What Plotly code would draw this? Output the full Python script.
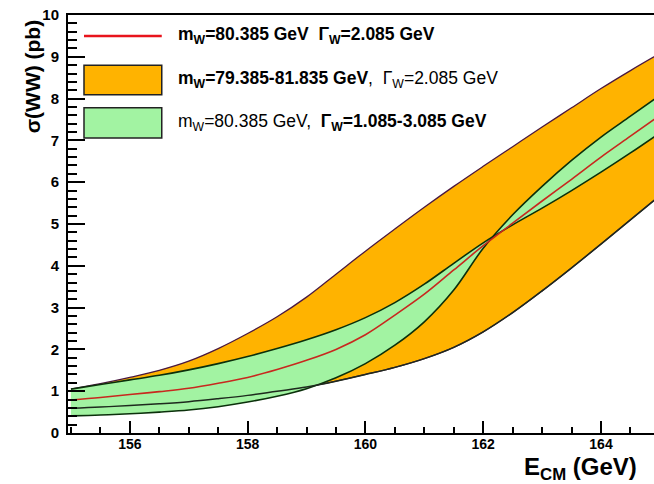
import plotly.graph_objects as go

# Centre-of-mass energy grid (GeV)
E_CM = [155.0, 155.5, 156.0, 156.5, 157.0, 157.5, 158.0, 158.5, 159.0, 159.5,
        160.0, 160.5, 161.0, 161.5, 162.0, 162.5, 163.0, 163.5, 164.0, 164.5, 165.0]

# sigma(WW) in pb
sigma_central = [0.79, 0.85, 0.92, 0.99, 1.07, 1.19, 1.33, 1.52, 1.74, 2.00,
                 2.35, 2.82, 3.32, 3.90, 4.48, 5.02, 5.55, 6.07, 6.60, 7.10, 7.60]
sigma_mw_low = [1.05, 1.18, 1.33, 1.50, 1.72, 2.02, 2.38, 2.78, 3.25, 3.80,
                4.35, 4.88, 5.40, 5.90, 6.38, 6.85, 7.32, 7.78, 8.24, 8.67, 9.08]
sigma_mw_high = [0.59, 0.62, 0.66, 0.70, 0.75, 0.82, 0.90, 1.00, 1.10, 1.24,
                 1.40, 1.57, 1.78, 2.05, 2.42, 2.88, 3.40, 3.95, 4.52, 5.10, 5.68]
sigma_gw_high = [1.05, 1.16, 1.27, 1.38, 1.51, 1.66, 1.83, 2.02, 2.23, 2.47,
                 2.76, 3.12, 3.56, 4.06, 4.55, 4.98, 5.38, 5.80, 6.24, 6.70, 7.18]
sigma_gw_low = [0.41, 0.43, 0.46, 0.50, 0.55, 0.63, 0.74, 0.88, 1.06, 1.32,
                1.66, 2.10, 2.66, 3.42, 4.42, 5.22, 5.90, 6.52, 7.08, 7.58, 8.08]

legend_labels = [
    "<b>m<sub>W</sub>=80.385 GeV  Γ<sub>W</sub>=2.085 GeV</b>",
    "<b>m<sub>W</sub>=79.385-81.835 GeV</b>,  Γ<sub>W</sub>=2.085 GeV",
    "m<sub>W</sub>=80.385 GeV,  <b>Γ<sub>W</sub>=1.085-3.085 GeV</b>",
]

ORANGE = "#ffb300"
GREEN = "#a2f3a2"
PURPLE = "#4a1840"
DKGREEN = "#0b300b"
RED = "#c8281e"
FONT = "Liberation Sans, Arial, sans-serif"

fig = go.Figure()
fig.add_trace(go.Scatter(x=E_CM, y=sigma_mw_high, mode="lines",
                         line=dict(color=PURPLE, width=1.3, shape="spline"),
                         showlegend=False, hoverinfo="skip"))
fig.add_trace(go.Scatter(x=E_CM, y=sigma_mw_low, mode="lines", fill="tonexty",
                         fillcolor=ORANGE,
                         line=dict(color=PURPLE, width=1.3, shape="spline"),
                         showlegend=False, hoverinfo="skip"))
fig.add_trace(go.Scatter(x=E_CM, y=sigma_gw_low, mode="lines",
                         line=dict(color=DKGREEN, width=1.6, shape="spline"),
                         showlegend=False, hoverinfo="skip"))
fig.add_trace(go.Scatter(x=E_CM, y=sigma_gw_high, mode="lines", fill="tonexty",
                         fillcolor=GREEN,
                         line=dict(color=DKGREEN, width=1.6, shape="spline"),
                         showlegend=False, hoverinfo="skip"))
fig.add_trace(go.Scatter(x=E_CM, y=sigma_mw_high, mode="lines",
                         line=dict(color="#1e2a1e", width=1.5, shape="spline"),
                         showlegend=False, hoverinfo="skip"))
fig.add_trace(go.Scatter(x=E_CM, y=sigma_central, mode="lines",
                         line=dict(color=RED, width=1.6, shape="spline"),
                         showlegend=False, hoverinfo="skip"))

# Manual ROOT-style legend
x0, x1 = 0.0273, 0.160
fig.add_shape(type="line", xref="paper", yref="paper", x0=x0, x1=x1, y0=0.950, y1=0.950,
              line=dict(color="#e8141c", width=2.5))
fig.add_shape(type="rect", xref="paper", yref="paper", x0=x0, x1=x1, y0=0.809, y1=0.880,
              fillcolor=ORANGE, line=dict(color="#222222", width=1.5))
fig.add_shape(type="rect", xref="paper", yref="paper", x0=x0, x1=x1, y0=0.706, y1=0.778,
              fillcolor=GREEN, line=dict(color="#222222", width=1.5))
for lab, yy in zip(legend_labels, [0.950, 0.845, 0.742]):
    fig.add_annotation(text=lab, xref="paper", yref="paper", x=0.184, y=yy,
                       xanchor="left", yanchor="middle", showarrow=False,
                       font=dict(family=FONT, size=17.5, color="black"))

# Axis titles
fig.add_annotation(text="<b>σ(WW) (pb)</b>", xref="paper", yref="paper",
                   x=-0.06, y=0.853, textangle=-90, xanchor="center", yanchor="middle",
                   showarrow=False, font=dict(family=FONT, size=21, color="black"))
fig.add_annotation(text="<b>E<sub>CM</sub> (GeV)</b>", xref="paper", yref="paper",
                   x=0.775, y=-0.085, xanchor="left", yanchor="middle",
                   showarrow=False, font=dict(family=FONT, size=24, color="black"))

fig.update_layout(
    width=654, height=484,
    margin=dict(l=68, r=0, t=15, b=51),
    plot_bgcolor="white", paper_bgcolor="white",
    showlegend=False,
    xaxis=dict(range=[154.95, 164.9], showgrid=False, zeroline=False, automargin=False,
               showline=True, linecolor="black", linewidth=2, mirror=True,
               ticks="inside", tick0=156, dtick=2, ticklen=12, tickwidth=1.5,
               tickcolor="black", ticklabelstandoff=-3,
               minor=dict(ticks="inside", dtick=0.5, tick0=155, ticklen=6,
                          tickwidth=1.5, tickcolor="black", showgrid=False),
               tickfont=dict(family=FONT, size=14, color="black", weight="bold")),
    yaxis=dict(range=[0, 10], showgrid=False, zeroline=False, automargin=False,
               showline=True, linecolor="black", linewidth=2, mirror=False,
               ticks="inside", tick0=0, dtick=1, ticklen=17, tickwidth=2,
               tickcolor="black", ticklabelstandoff=4,
               minor=dict(ticks="inside", dtick=0.2, ticklen=9, tickwidth=2,
                          tickcolor="black", showgrid=False),
               tickfont=dict(family=FONT, size=15, color="black", weight="bold")),
)

fig.write_html("out.html", config={"displayModeBar": False},
               post_script="document.body.style.margin='0px';")
